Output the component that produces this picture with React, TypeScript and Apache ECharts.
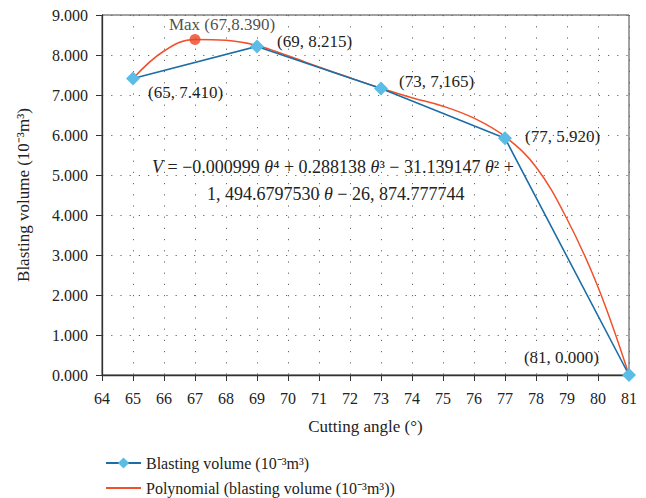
import React, { useEffect, useRef } from "react";
import * as echarts from "echarts";

const xTicks = [64, 65, 66, 67, 68, 69, 70, 71, 72, 73, 74, 75, 76, 77, 78, 79, 80, 81];
const angles = [65, 69, 73, 77, 81];
const volumes = [7.41, 8.215, 7.165, 5.92, 0.0];
const pointLabels = ["(65, 7.410)", "(69, 8.215)", "(73, 7,165)", "(77, 5.920)", "(81, 0.000)"];
const trendAngles = [65, 66, 67, 68, 69, 70, 71, 72, 73, 74, 75, 76, 77, 78, 79, 80, 81];
const trendValues = [7.41, 8.1, 8.39, 8.37, 8.24, 7.98, 7.7, 7.43, 7.17, 6.93, 6.72, 6.42, 5.96, 5.2, 3.9, 2.2, 0.0];
const maxPoint = [67, 8.39];
const maxLabel = "Max (67,8.390)";
const seriesNames = ["Blasting volume (10⁻³m³)", "Polynomial (blasting volume (10⁻³m³))"];

const FONT = "Liberation Serif";
const FS = 16;
const LFS = 17;
const EFS = 18;

export default function App() {
  const ref = useRef<HTMLDivElement>(null);
  useEffect(() => {
    if (!ref.current) return;
    const chart = echarts.init(ref.current, null, { renderer: "svg" });
    const labelOffsets: any[] = [
      { position: "right", offset: [3, 14] },
      { position: "right", offset: [8, -5] },
      { position: "right", offset: [6, -7] },
      { position: "right", offset: [8, -2] },
      { position: "left", offset: [-18, -18] },
    ];
    const blueData = angles.map((a, i) => ({
      value: [a, volumes[i]],
      label: {
        show: true,
        formatter: pointLabels[i],
        position: labelOffsets[i].position,
        offset: labelOffsets[i].offset,
        distance: 5,
        color: "#222",
        fontFamily: FONT,
        fontSize: LFS,
      },
    }));
    const legendCommon = {
      orient: "horizontal",
      left: 100,
      itemWidth: 35,
      itemHeight: 14,
      textStyle: { fontFamily: FONT, fontSize: FS, color: "#222" },
    };
    const eqRich = { i: { fontStyle: "italic", fontFamily: FONT, fontSize: EFS } };
    const option: any = {
      animation: false,
      backgroundColor: "#fff",
      textStyle: { fontFamily: FONT },
      grid: {
        left: 102,
        right: 17,
        top: 15,
        bottom: 123,
        outerBoundsMode: "none",
        containLabel: false,
        show: true,
        borderColor: "#444",
        borderWidth: 1,
      },
      legend: [
        { ...legendCommon, top: 450, data: [{ name: seriesNames[0] }] },
        { ...legendCommon, top: 475, data: [{ name: seriesNames[1], itemStyle: { opacity: 0 } }] },
      ],
      xAxis: {
        type: "value",
        min: 64,
        max: 81,
        interval: 1,
        name: "Cutting angle (°)",
        nameLocation: "middle",
        nameGap: 43,
        nameTextStyle: { fontFamily: FONT, fontSize: LFS, color: "#222" },
        axisLine: { show: true, lineStyle: { color: "#333", width: 1.3 } },
        axisTick: { show: true, length: 6, lineStyle: { color: "#333" } },
        axisLabel: {
          fontFamily: FONT,
          fontSize: FS,
          color: "#222",
          margin: 15,
          formatter: (v: number) => (xTicks.includes(v) ? String(v) : ""),
        },
        splitLine: {
          show: true,
          lineStyle: { color: "#666", type: [1.2, 10], width: 1 },
        },
      },
      yAxis: {
        type: "value",
        min: 0,
        max: 9,
        interval: 1,
        name: "Blasting volume (10⁻³m³)",
        nameLocation: "middle",
        nameGap: 70,
        nameTextStyle: { fontFamily: FONT, fontSize: LFS, color: "#222" },
        axisLine: { show: true, lineStyle: { color: "#333", width: 1.3 } },
        axisTick: { show: true, length: 6, lineStyle: { color: "#333" } },
        axisLabel: {
          fontFamily: FONT,
          fontSize: FS,
          color: "#222",
          margin: 14,
          formatter: (v: number) => v.toFixed(3),
        },
        splitLine: {
          show: true,
          lineStyle: { color: "#666", type: [1.2, 8], width: 1 },
        },
      },
      series: [
        {
          name: seriesNames[1],
          type: "line",
          data: trendAngles.map((a, i) => [a, trendValues[i]]),
          smooth: 0.4,
          symbol: "none",
          lineStyle: { color: "#f0502a", width: 1.5 },
          itemStyle: { color: "#f0502a" },
          z: 2,
        },
        {
          name: seriesNames[0],
          type: "line",
          data: blueData,
          symbol: "diamond",
          symbolSize: 14,
          lineStyle: { color: "#1d6ea6", width: 1.6 },
          itemStyle: { color: "#5bbde6" },
          z: 3,
        },
        {
          name: "max",
          type: "scatter",
          data: [
            {
              value: maxPoint,
              label: {
                show: true,
                formatter: maxLabel,
                position: "top",
                distance: 5,
                offset: [27, 4],
                color: "#222",
                fontFamily: FONT,
                fontSize: LFS,
              },
            },
          ],
          symbol: "circle",
          symbolSize: 11,
          itemStyle: { color: "#ec4526" },
          z: 4,
        },
      ],
      graphic: [
        {
          type: "text",
          left: 152,
          top: 158,
          style: {
            text: "{i|V} = −0.000999 {i|θ}⁴ + 0.288138 {i|θ}³ − 31.139147 {i|θ}² +",
            fontFamily: FONT,
            fontSize: EFS,
            fill: "#222",
            rich: eqRich,
          },
          z: 10,
        },
        {
          type: "text",
          left: 207,
          top: 185,
          style: {
            text: "1, 494.6797530 {i|θ} − 26, 874.777744",
            fontFamily: FONT,
            fontSize: EFS,
            fill: "#222",
            rich: eqRich,
          },
          z: 10,
        },
      ],
    };
    chart.setOption(option);
    return () => chart.dispose();
  }, []);
  return (
    <div
      ref={ref}
      style={{ position: "fixed", left: 0, top: 0, width: 646, height: 498 }}
    />
  );
}
